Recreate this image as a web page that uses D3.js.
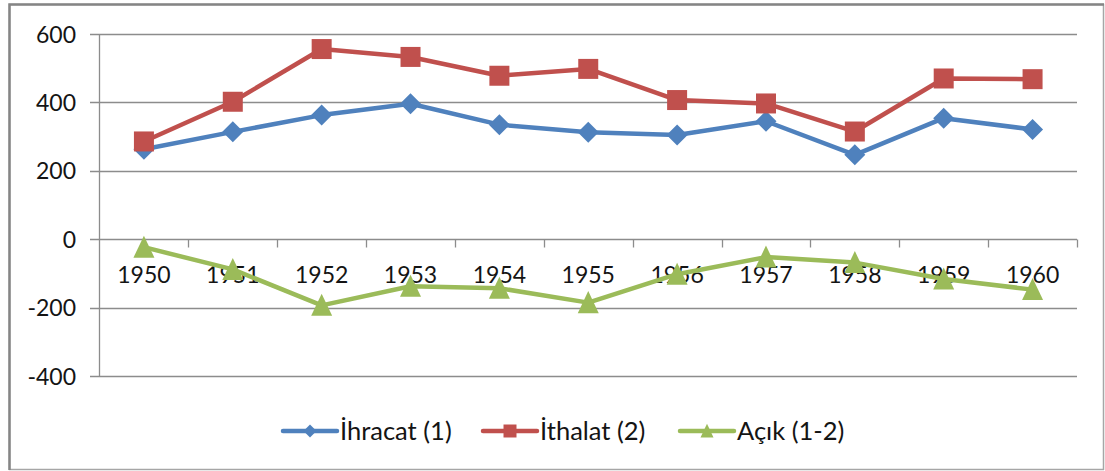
<!DOCTYPE html>
<html>
<head>
<meta charset="utf-8">
<script src="https://cdn.jsdelivr.net/npm/d3@7"></script>
<style>
  body { margin: 0; background: #fff; }
  text { font-family: Lato, "Noto Sans", sans-serif; fill: #141414; }
</style>
</head>
<body>
<div id="chart"></div>
<script>
// data
var years = ['1950', '1951', '1952', '1953', '1954', '1955', '1956', '1957', '1958', '1959', '1960']
var ihracat = [263, 314, 363, 396, 335, 313, 305, 345, 247, 354, 321]
var ithalat = [286, 402, 556, 533, 478, 498, 407, 397, 315, 470, 468]
var acik = [-23, -88, -193, -137, -143, -185, -102, -52, -68, -116, -147]
var yTicks = [-400, -200, 0, 200, 400, 600]
var seriesNames = ['İhracat (1)', 'İthalat (2)', 'Açık (1-2)']
var colors = ['#4f81bd', '#c0504d', '#9bbb59']
var shapes = ['diamond', 'square', 'triangle']

var width = 1105, height = 471
var svg = d3.select('#chart').append('svg')
  .attr('width', width)
  .attr('height', height)

// chart border
svg.append('rect')
  .attr('x', 9.5).attr('y', 4.5)
  .attr('width', 1094).attr('height', 465)
  .style('fill', 'none')
  .style('stroke', '#a6a6a6')
  .style('stroke-width', 1.5)
svg.append('path')
  .attr('d', 'M9.5,470 V4.5 H1104')
  .style('fill', 'none')
  .style('stroke', '#858585')
  .style('stroke-width', 2.5)

var xMap = d3.scaleBand()
  .domain(years)
  .range([99.5, 1077])

var yMap = d3.scaleLinear()
  .domain([-400, 600])
  .range([376.2, 34])

var g = svg.append('g')

// gridlines + y labels
var gY = g.append('g')
gY.selectAll('line').data(yTicks).enter().append('line')
  .attr('x1', 90)
  .attr('x2', 1077)
  .attr('y1', d => Math.round(yMap(d)) + 0.5)
  .attr('y2', d => Math.round(yMap(d)) + 0.5)
  .style('stroke', '#8c8c8c')
  .style('stroke-width', 1.3)

gY.selectAll('text').data(yTicks).enter().append('text')
  .attr('x', 76)
  .attr('y', d => yMap(d) + 8.5)
  .style('text-anchor', 'end')
  .style('font-size', '23px')
  .text(d => d)

g.append('line')
  .attr('x1', 99.5).attr('x2', 99.5)
  .attr('y1', yMap(600)).attr('y2', yMap(-400))
  .style('stroke', '#8c8c8c')
  .style('stroke-width', 1.3)

// x axis on the zero line
var xAxis = d3.axisBottom(xMap).tickSize(0).tickSizeOuter(0)
var y0 = Math.round(yMap(0)) + 0.5
var gX = g.append('g')
  .attr('transform', 'translate(' + [0, y0] + ')')
  .call(xAxis)
gX.select('.domain').remove()
gX.selectAll('text')
  .attr('y', 43)
  .attr('dy', 0)
  .style('font-size', '23px')
  .style('font-family', 'Lato, "Noto Sans", sans-serif')
  .style('fill', '#141414')

var bounds = years.map(d => xMap(d)).concat([xMap.range()[1]])
gX.selectAll('.cat-tick').data(bounds.slice(1)).enter().append('line')
  .attr('x1', d => Math.round(d) + 0.5)
  .attr('x2', d => Math.round(d) + 0.5)
  .attr('y1', 0).attr('y2', 8)
  .style('stroke', '#8c8c8c')
  .style('stroke-width', 1.3)

function markerPath(shape, s) {
  var h = s / 2
  if (shape === 'diamond') return 'M0,' + (-h) + 'L' + h + ',0L0,' + h + 'L' + (-h) + ',0Z'
  if (shape === 'square') return 'M' + (-h) + ',' + (-h) + 'H' + h + 'V' + h + 'H' + (-h) + 'Z'
  return 'M0,' + (-h * 1.1) + 'L' + h + ',' + (h * 1.0) + 'L' + (-h) + ',' + (h * 1.0) + 'Z'
}

function drawLine(data, color, shape, size) {
  var gL = g.append('g')
  var line = d3.line()
    .x((d, i) => xMap(years[i]) + xMap.bandwidth() / 2)
    .y(d => yMap(d))

  gL.append('path')
    .datum(data)
    .style('fill', 'none')
    .style('stroke', color)
    .style('stroke-width', 4.5)
    .style('stroke-linejoin', 'round')
    .style('stroke-linecap', 'round')
    .attr('d', line)

  gL.selectAll('path.m').data(data).enter().append('path')
    .attr('class', 'm')
    .attr('transform', (d, i) => 'translate(' + [xMap(years[i]) + xMap.bandwidth() / 2, yMap(d)] + ')')
    .attr('d', markerPath(shape, size))
    .style('fill', color)
}

drawLine(ihracat, colors[0], shapes[0], 21)
drawLine(ithalat, colors[1], shapes[1], 20)
drawLine(acik, colors[2], shapes[2], 21)

// legend
var legendX = [283, 483, 680]
var legendY = 431
var gLeg = svg.append('g')
seriesNames.forEach((name, i) => {
  var x = legendX[i]
  gLeg.append('line')
    .attr('x1', x).attr('x2', x + 54)
    .attr('y1', legendY).attr('y2', legendY)
    .style('stroke', colors[i])
    .style('stroke-width', 4.5)
    .style('stroke-linecap', 'round')
  gLeg.append('path')
    .attr('transform', 'translate(' + [x + 27, legendY] + ')')
    .attr('d', markerPath(shapes[i], 13))
    .style('fill', colors[i])
  gLeg.append('text')
    .attr('x', x + 57)
    .attr('y', legendY + 9)
    .style('font-size', '25.5px')
    .text(name)
})
</script>
</body>
</html>
